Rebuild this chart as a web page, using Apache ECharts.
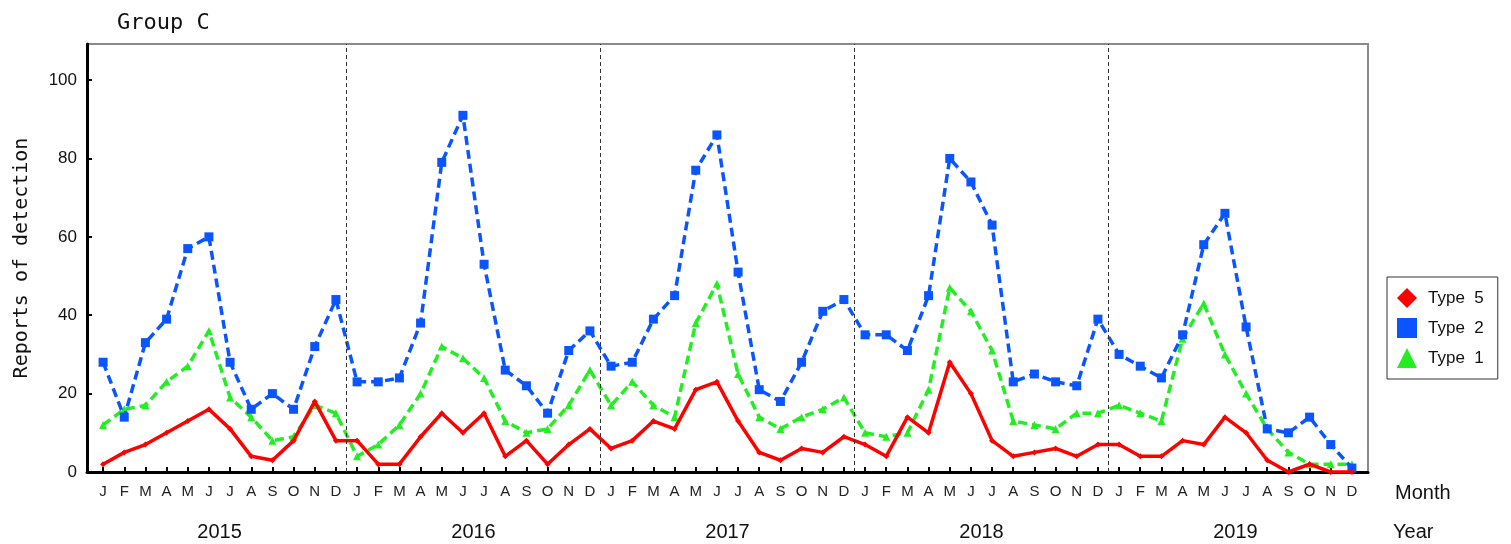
<!DOCTYPE html>
<html>
<head>
<meta charset="utf-8">
<script src="https://cdn.jsdelivr.net/npm/echarts@6/dist/echarts.min.js"></script>
<style>html,body{margin:0;padding:0;background:#fff}#c{width:1511px;height:544px}</style>
</head>
<body>
<div id="c"></div>
<script>
const monthLabels = ['J','F','M','A','M','J','J','A','S','O','N','D'];
const yearLabels = ['2015','2016','2017','2018','2019'];
const yTicks = [0, 20, 40, 60, 80, 100];
const yearDividers = [11.5, 23.5, 35.5, 47.5];

const type5 = [2,5,7,10,13,16,11,4,3,8,18,8,
               8,2,2,9,15,10,15,4,8,2,7,11,
               6,8,13,11,21,23,13,5,3,6,5,9,
               7,4,14,10,28,20,8,4,5,6,4,7,
               7,4,4,8,7,14,10,3,0,2,0,0];
const type2 = [28,14,33,39,57,60,28,16,20,16,32,44,
               23,23,24,38,79,91,53,26,22,15,31,36,
               27,28,39,45,77,86,51,21,18,28,41,44,
               35,35,31,45,80,74,63,23,25,23,22,39,
               30,27,24,35,58,66,37,11,10,14,7,1];
const type1 = [12,16,17,23,27,36,19,14,8,9,17,15,
               4,7,12,20,32,29,24,13,10,11,17,26,
               17,23,17,14,38,48,25,14,11,14,16,19,
               10,9,10,21,47,41,31,13,12,11,15,15,
               17,15,13,34,43,30,20,11,5,2,2,2];

const nMonths = type5.length;
const monthIdx = Array.from({length: nMonths}, (_, i) => i);
const yearCenters = yearLabels.map((_, k) => k * 12 + 5.5);
const toXY = arr => arr.map((v, i) => [i, v]);

const chart = echarts.init(document.getElementById('c'));
chart.setOption({
  animation: false,
  backgroundColor: '#fff',
  title: {
    text: 'Group C', left: 112, top: 7,
    textStyle: {fontFamily: 'DejaVu Sans Mono', fontSize: 22, fontWeight: 'normal', color: '#111'}
  },
  grid: {left: 87, right: 143, top: 44, bottom: 72, show: true, borderColor: '#8a8a8a', borderWidth: 2, backgroundColor: 'transparent'},
  legend: {
    orient: 'vertical', left: 1387, top: 277,
    borderColor: '#333', borderWidth: 1, padding: [11, 14, 11, 10],
    itemWidth: 20, itemHeight: 20, itemGap: 10,
    textStyle: {fontFamily: 'Liberation Sans', fontSize: 17, color: '#111', padding: [0, 0, 0, 6]},
    data: [
      {name: 'Type 5', icon: 'diamond'},
      {name: 'Type 2', icon: 'rect'},
      {name: 'Type 1', icon: 'triangle'}
    ],
    formatter: n => n.replace(' ', '  ')
  },
  xAxis: [{
    type: 'value', min: -0.76, max: 59.76,
    axisLine: {show: true, onZero: false, lineStyle: {color: '#000', width: 3}},
    axisTick: {show: true, inside: true, length: 5, customValues: monthIdx, lineStyle: {color: '#000', width: 2}},
    axisLabel: {customValues: monthIdx, margin: 12, fontFamily: 'Liberation Sans', fontSize: 15, color: '#222',
      formatter: v => monthLabels[Math.round(v) % 12]},
    splitLine: {show: false}
  }, {
    type: 'value', min: -0.76, max: 59.76, position: 'bottom',
    axisLine: {show: false}, axisTick: {show: false}, splitLine: {show: false},
    axisLabel: {customValues: yearCenters, margin: 50, fontFamily: 'Liberation Sans', fontSize: 20, color: '#111',
      formatter: v => yearLabels[Math.round((v - 5.5) / 12)]}
  }],
  yAxis: {
    type: 'value', min: 0, max: 109.2,
    name: 'Reports of detection', nameLocation: 'middle', nameGap: 55, nameRotate: 90,
    nameTextStyle: {fontFamily: 'DejaVu Sans Mono', fontSize: 20, color: '#111'},
    axisLine: {show: true, onZero: false, lineStyle: {color: '#000', width: 3}},
    axisTick: {show: true, inside: true, length: 5, customValues: yTicks, lineStyle: {color: '#000', width: 2}},
    axisLabel: {customValues: yTicks, margin: 10, fontFamily: 'Liberation Sans', fontSize: 17, color: '#111'},
    splitLine: {show: false}
  },
  graphic: [
    {type: 'text', left: 1395, top: 483, style: {text: 'Month', font: '20px "Liberation Sans"', fill: '#111'}},
    {type: 'text', left: 1393, top: 522, style: {text: 'Year', font: '20px "Liberation Sans"', fill: '#111'}}
  ],
  series: [{
    name: 'Type 1', type: 'line', data: toXY(type1), z: 2,
    symbol: 'triangle', symbolSize: 8,
    itemStyle: {color: '#22ee22'},
    lineStyle: {color: '#22ee22', width: 3.5, type: [9, 5]},
    markLine: {
      silent: true, symbol: 'none', label: {show: false},
      lineStyle: {color: '#333', width: 1, type: [4, 3]},
      data: yearDividers.map(x => ({xAxis: x}))
    }
  }, {
    name: 'Type 2', type: 'line', data: toXY(type2), z: 3,
    symbol: 'rect', symbolSize: 9,
    itemStyle: {color: '#0a55ff'},
    lineStyle: {color: '#0a55ff', width: 3.5, type: [9, 5]}
  }, {
    name: 'Type 5', type: 'line', data: toXY(type5), z: 4,
    symbol: 'diamond', symbolSize: 6,
    itemStyle: {color: '#ff0000'},
    lineStyle: {color: '#ff0000', width: 3.5}
  }]
});
</script>
</body>
</html>
